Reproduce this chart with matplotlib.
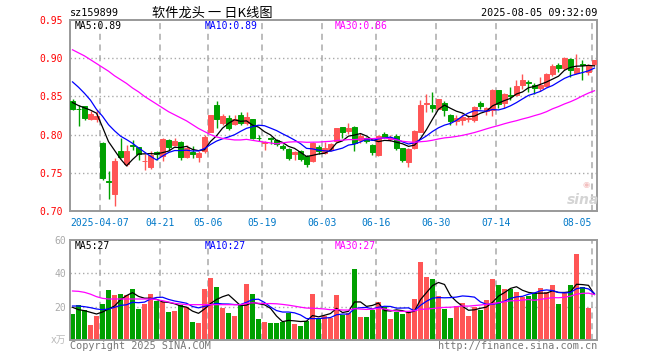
import numpy as np
import pandas as pd
import matplotlib
matplotlib.use('Agg')
import matplotlib.pyplot as plt

W, H = 660, 360

# ---------------- data ----------------
holidays = ['2025-04-04', '2025-05-01', '2025-05-02', '2025-05-05', '2025-06-02']
dates = [d.strftime('%Y-%m-%d') for d in pd.bdate_range('2025-03-28', '2025-08-05')
         if d.strftime('%Y-%m-%d') not in holidays]

opens = [0.844, 0.834, 0.837, 0.821, 0.820, 0.789, 0.739, 0.722, 0.779, 0.761,
         0.787, 0.784, 0.765, 0.758, 0.777, 0.772, 0.793, 0.787, 0.790, 0.771,
         0.777, 0.771, 0.778, 0.804, 0.839, 0.815, 0.822, 0.814, 0.826, 0.815,
         0.820, 0.796, 0.789, 0.795, 0.793, 0.785, 0.781, 0.775, 0.778, 0.772,
         0.765, 0.784, 0.776, 0.781, 0.791, 0.810, 0.805, 0.810, 0.793, 0.796,
         0.787, 0.773, 0.801, 0.794, 0.798, 0.782, 0.764, 0.782, 0.804, 0.840,
         0.839, 0.834, 0.841, 0.826, 0.818, 0.819, 0.820, 0.819, 0.841, 0.831,
         0.832, 0.858, 0.842, 0.852, 0.852, 0.865, 0.869, 0.865, 0.861, 0.864,
         0.879, 0.891, 0.887, 0.899, 0.881, 0.892, 0.882, 0.892]
highs = [0.847, 0.839, 0.838, 0.831, 0.832, 0.790, 0.752, 0.769, 0.795, 0.787,
         0.793, 0.784, 0.775, 0.778, 0.778, 0.795, 0.794, 0.796, 0.791, 0.786,
         0.785, 0.779, 0.800, 0.826, 0.844, 0.827, 0.826, 0.826, 0.830, 0.830,
         0.821, 0.799, 0.792, 0.797, 0.794, 0.788, 0.782, 0.779, 0.780, 0.773,
         0.790, 0.786, 0.790, 0.789, 0.809, 0.810, 0.815, 0.811, 0.802, 0.797,
         0.788, 0.799, 0.803, 0.799, 0.801, 0.783, 0.782, 0.806, 0.845, 0.853,
         0.856, 0.847, 0.844, 0.827, 0.826, 0.827, 0.826, 0.838, 0.844, 0.836,
         0.860, 0.859, 0.854, 0.862, 0.872, 0.879, 0.871, 0.867, 0.876, 0.880,
         0.893, 0.894, 0.901, 0.900, 0.905, 0.897, 0.892, 0.898]
lows = [0.832, 0.811, 0.819, 0.819, 0.817, 0.741, 0.716, 0.707, 0.770, 0.759,
        0.780, 0.767, 0.754, 0.755, 0.767, 0.765, 0.778, 0.785, 0.767, 0.769,
        0.769, 0.764, 0.776, 0.803, 0.809, 0.813, 0.806, 0.812, 0.813, 0.812,
        0.794, 0.791, 0.780, 0.788, 0.785, 0.780, 0.767, 0.767, 0.765, 0.758,
        0.764, 0.774, 0.774, 0.779, 0.790, 0.795, 0.801, 0.779, 0.789, 0.789,
        0.773, 0.772, 0.795, 0.791, 0.780, 0.764, 0.758, 0.781, 0.803, 0.829,
        0.829, 0.833, 0.825, 0.813, 0.813, 0.812, 0.817, 0.817, 0.833, 0.826,
        0.825, 0.835, 0.835, 0.845, 0.851, 0.860, 0.856, 0.853, 0.857, 0.862,
        0.877, 0.882, 0.885, 0.876, 0.879, 0.871, 0.878, 0.890]
closes = [0.834, 0.833, 0.822, 0.827, 0.824, 0.743, 0.738, 0.765, 0.771, 0.778,
          0.785, 0.774, 0.766, 0.773, 0.775, 0.794, 0.784, 0.791, 0.771, 0.783,
          0.774, 0.776, 0.797, 0.825, 0.820, 0.824, 0.808, 0.820, 0.815, 0.823,
          0.796, 0.795, 0.790, 0.794, 0.788, 0.782, 0.769, 0.777, 0.768, 0.761,
          0.789, 0.778, 0.782, 0.788, 0.808, 0.803, 0.809, 0.789, 0.798, 0.792,
          0.777, 0.798, 0.797, 0.796, 0.782, 0.767, 0.781, 0.805, 0.839, 0.841,
          0.835, 0.846, 0.832, 0.818, 0.822, 0.823, 0.822, 0.836, 0.837, 0.835,
          0.858, 0.840, 0.853, 0.851, 0.864, 0.871, 0.868, 0.861, 0.865, 0.879,
          0.890, 0.887, 0.900, 0.884, 0.887, 0.891, 0.891, 0.897]
volumes = [15.6, 21.0, 18.0, 9.0, 14.4, 21.6, 30.0, 27.0, 27.6, 27.0,
           30.6, 18.6, 21.6, 27.6, 23.6, 23.0, 17.0, 17.6, 21.0, 20.0,
           11.0, 10.4, 30.6, 37.4, 32.0, 19.4, 16.4, 14.4, 21.0, 33.4,
           27.6, 12.6, 11.0, 10.4, 10.4, 10.6, 16.4, 9.6, 8.4, 11.4,
           27.6, 12.4, 14.4, 13.5, 27.0, 15.0, 16.0, 42.6, 13.6, 13.6,
           18.0, 23.0, 20.0, 12.4, 17.0, 15.6, 17.0, 24.6, 47.0, 38.0,
           36.6, 26.4, 18.6, 13.4, 20.4, 22.4, 14.4, 20.0, 18.0, 24.0,
           36.6, 33.0, 30.6, 30.6, 29.0, 26.0, 26.6, 28.0, 31.0, 29.0,
           33.0, 21.6, 28.0, 33.0, 51.6, 32.0, 19.4, 0.6]

ma5_lead = [0.842, 0.838, 0.835, 0.832]
ma10_lead = [0.869, 0.862, 0.854, 0.845, 0.833, 0.824, 0.813, 0.805, 0.798]
ma30_lead = [0.911, 0.907, 0.903, 0.898, 0.893, 0.888, 0.883, 0.877, 0.872, 0.867,
             0.861, 0.856, 0.850, 0.845, 0.840, 0.835, 0.830, 0.826, 0.822, 0.818,
             0.813, 0.808, 0.804, 0.800, 0.797, 0.795, 0.794, 0.793, 0.793]
vma5_lead = [19.6, 18.2, 17.6, 16.6]
vma10_lead = [20.4, 20.4, 20.0, 19.4, 18.6, 18.2, 18.6, 19.6, 20.8]
vma30_lead = [29.4, 29.2, 28.6, 27.5, 26.0, 25.0, 24.6, 24.6, 24.6, 24.6,
              24.6, 24.6, 24.6, 24.6, 24.2, 23.6, 22.8, 22.0, 21.6, 21.2,
              21.2, 21.2, 21.2, 21.2, 21.2, 21.2, 21.2, 21.2, 21.2]

tick_dates = ['2025-04-07', '2025-04-21', '2025-05-06', '2025-05-19', '2025-06-03',
              '2025-06-16', '2025-06-30', '2025-07-14', '2025-08-05']
tick_labels = ['2025-04-07', '04-21', '05-06', '05-19', '06-03', '06-16', '06-30', '07-14', '08-05']
price_ticks = [0.70, 0.75, 0.80, 0.85, 0.90, 0.95]
vol_ticks = [20, 40, 60]

title = '软件龙头 一 日K线图'
code = 'sz159899'
stamp = '2025-08-05 09:32:09'
price_ma_labels = ['MA5:0.89', 'MA10:0.89', 'MA30:0.86']
vol_ma_labels = ['MA5:27', 'MA10:27', 'MA30:27']

# ---------------- helpers ----------------
def ma(values, n, lead):
    s = pd.Series(values, dtype=float).rolling(n).mean().to_numpy()
    s[:len(lead)] = lead
    return s

RED = '#ff5555'
GREEN = '#00a000'
GRID = '#aaaaaa'
FRAME = '#999999'
MONO = 'DejaVu Sans Mono'

n = len(closes)
x = np.arange(n)
o = np.array(opens); h = np.array(highs); l = np.array(lows); c = np.array(closes)
up = c >= o
cols = np.where(up, RED, GREEN)

fig = plt.figure(figsize=(W / 100, H / 100), dpi=100)
fig.patch.set_facecolor('white')

ax1 = fig.add_axes([70 / W, 1 - 211 / H, 527 / W, 191 / H])
ax2 = fig.add_axes([70 / W, 1 - 340 / H, 527 / W, 100 / H])

xl = (-0.42, n - 1 + 0.42)
tick_idx = [dates.index(d) for d in tick_dates]
grid_x = [t - 0.42 for t in tick_idx]

for ax in (ax1, ax2):
    ax.set_xlim(*xl)
    for s in ax.spines.values():
        s.set_color(FRAME)
        s.set_linewidth(1.4)
    ax.tick_params(length=0)
    for gx in grid_x:
        ax.axvline(gx, color=GRID, lw=1.1, ls=(0, (4, 3)), zorder=0)

# --- price panel ---
ax1.set_ylim(0.70, 0.95)
for yv in price_ticks[1:-1]:
    ax1.axhline(yv, color=GRID, lw=1.0, ls=(0, (1, 2)), zorder=0)
ax1.vlines(x, l, h, colors=cols, lw=1.0, zorder=2)
ax1.bar(x, np.abs(c - o), bottom=np.minimum(o, c), width=0.68, color=cols,
        edgecolor=cols, linewidth=0.7, zorder=3)
ax1.plot(x, ma(closes, 5, ma5_lead), color='black', lw=0.9, zorder=4)
ax1.plot(x, ma(closes, 10, ma10_lead), color='#0000ff', lw=0.9, zorder=4)
ax1.plot(x, ma(closes, 30, ma30_lead), color='#ff00ff', lw=0.9, zorder=4)

ax1.set_yticks(price_ticks)
ax1.set_yticklabels([f'{v:.2f}' for v in price_ticks], color='#ff0000',
                    fontsize=7, family=MONO)
ax1.tick_params(axis='y', pad=5)
ax1.set_xticks(grid_x)
ax1.set_xticklabels(tick_labels, color='#0078c8', fontsize=7, family=MONO)
ax1.tick_params(axis='x', pad=5)
ax1.get_xticklabels()[-1].set_ha('right')

# --- volume panel ---
vol = np.array(volumes)
ax2.set_ylim(0, 60)
for yv in vol_ticks[:-1]:
    ax2.axhline(yv, color=GRID, lw=1.0, ls=(0, (1, 2)), zorder=0)
ax2.bar(x, vol, width=0.8, color=cols, linewidth=0, zorder=2)
ax2.plot(x, ma(volumes, 5, vma5_lead), color='black', lw=0.9, zorder=4)
ax2.plot(x, ma(volumes, 10, vma10_lead), color='#0000ff', lw=0.9, zorder=4)
ax2.plot(x, ma(volumes, 30, vma30_lead), color='#ff00ff', lw=0.9, zorder=4)
ax2.set_yticks(vol_ticks)
ax2.set_yticklabels([str(v) for v in vol_ticks], color='#aaaaaa', fontsize=7, family=MONO)
ax2.tick_params(axis='y', pad=3)
ax2.set_xticks([])

# --- texts ---
def ft(px, py, s, **kw):
    fig.text(px / W, 1 - py / H, s, **kw)

ft(70, 13, code, fontsize=7.3, family=MONO, va='center', ha='left', color='black')
ft(212, 13, title, fontsize=9.5, family=['Noto Sans CJK SC', 'DejaVu Sans'],
   va='center', ha='center', color='black')
ft(597, 13, stamp, fontsize=7.3, family=MONO, va='center', ha='right', color='black')

ma_cols = ['black', '#0000ff', '#ff00ff']
ma_x = [75, 205, 335]
for lab, col, px in zip(price_ma_labels, ma_cols, ma_x):
    ft(px, 26, lab, fontsize=7, family=MONO, va='center', ha='left', color=col)
for lab, col, px in zip(vol_ma_labels, ma_cols, ma_x):
    ft(px, 246, lab, fontsize=7, family=MONO, va='center', ha='left', color=col)

ft(66, 340, 'x万', fontsize=7, family=['DejaVu Sans', 'Noto Sans CJK SC'],
   va='center', ha='right', color='#bbbbbb')
ft(70, 346, 'Copyright 2025 SINA.COM', fontsize=7.3, family=MONO,
   va='center', ha='left', color='#777777')
ft(597, 346, 'http://finance.sina.com.cn', fontsize=7.3, family=MONO,
   va='center', ha='right', color='#777777')

# sina watermark
ft(583, 200, 'sina', fontsize=10, style='italic', weight='bold',
   va='center', ha='center', color='#d4d4d4', family='DejaVu Sans')
ft(586, 184, '◉', fontsize=6, va='center', ha='center', color='#f3c0c0', family='DejaVu Sans')

fig.savefig('out.png', dpi=100, facecolor='white')
